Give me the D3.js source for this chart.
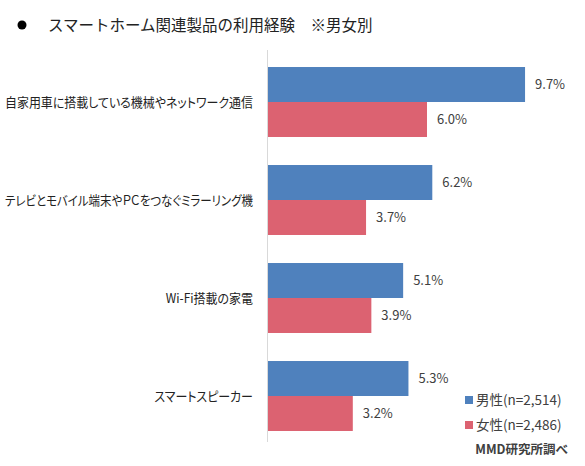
<!DOCTYPE html>
<html>
<head>
<meta charset="utf-8">
<script src="https://cdn.jsdelivr.net/npm/d3@7"></script>
<style>
  body { margin: 0; background: #fff; }
  text { font-family: "Noto Sans CJK JP", "Noto Sans", sans-serif; }
</style>
</head>
<body>
<svg id="chart" width="585" height="466"></svg>
<script>
// Chart data:
var categories = [
  "自家用車に搭載している機械やネットワーク通信",
  "テレビとモバイル端末やＰＣをつなぐミラーリング機",
  "Wi-Fi搭載の家電",
  "スマートスピーカー"
];
var seriesNames = ["男性(n=2,514)", "女性(n=2,486)"];
var maleValues = [9.7, 6.2, 5.1, 5.3];
var femaleValues = [6.0, 3.7, 3.9, 3.2];
var titleText = "スマートホーム関連製品の利用経験　※男女別";
var sourceText = "MMD研究所調べ";

var colors = ["#4f81bd", "#dc6271"];

var svg = d3.select("#chart");

// The rows, one per category, and a sub-band per series:
var y = d3.scaleBand()
  .domain(categories)
  .range([53, 445])
  .paddingInner(0.286)
  .paddingOuter(0.143);

var ySub = d3.scaleBand()
  .domain(seriesNames)
  .range([0, y.bandwidth()]);

var x = d3.scaleLinear()
  .domain([0, 10])
  .range([268, 533]);

// Title with its bullet:
svg.append("circle")
  .attr("cx", 22).attr("cy", 25).attr("r", 4.5)
  .attr("fill", "#000");
svg.append("text")
  .attr("x", 48).attr("y", 31)
  .attr("font-size", 15.5)
  .attr("fill", "#222")
  .text(titleText);

// The bars, grouped by series:
var values = [maleValues, femaleValues];
seriesNames.forEach(function(name, s) {
  var rows = categories.map(function(c, i) { return { cat: c, v: values[s][i] }; });

  svg.selectAll(".bar-" + s)
    .data(rows)
    .enter().append("rect")
    .attr("class", "bar-" + s)
    .attr("x", x(0))
    .attr("y", function(d) { return y(d.cat) + ySub(name); })
    .attr("width", function(d) { return x(d.v) - x(0); })
    .attr("height", ySub.bandwidth())
    .attr("fill", colors[s]);

  // Value labels just after the bar end:
  svg.selectAll(".val-" + s)
    .data(rows)
    .enter().append("text")
    .attr("class", "val-" + s)
    .attr("x", function(d) { return x(d.v) + 10; })
    .attr("y", function(d) { return y(d.cat) + ySub(name) + ySub.bandwidth() / 2; })
    .attr("dy", "0.35em")
    .attr("font-size", 13)
    .attr("fill", "#404040")
    .text(function(d) { return d.v.toFixed(1) + "%"; });
});

// Vertical category axis (line only, labels drawn by hand for the narrow font):
svg.append("line")
  .attr("x1", x(0) - 0.5).attr("x2", x(0) - 0.5)
  .attr("y1", 50).attr("y2", 442)
  .attr("stroke", "#d9d9d9")
  .attr("stroke-width", 1);

// The original font is narrower than ours, so labels get squeezed a bit
// (and never wider than the room left of the axis):
var labelRoom = x(0) - 20;
svg.selectAll(".cat-label")
  .data(categories)
  .enter().append("text")
  .attr("class", "cat-label")
  .attr("x", x(0) - 15)
  .attr("y", function(d) { return y(d) + y.bandwidth() / 2; })
  .attr("dy", "0.35em")
  .attr("text-anchor", "end")
  .attr("font-size", 13)
  .style("font-feature-settings", "'palt'")
  .attr("fill", "#222")
  .text(function(d) { return d; })
  .each(function() {
    var w = this.getComputedTextLength();
    var target = Math.min(w * 0.92, labelRoom);
    d3.select(this)
      .attr("textLength", target)
      .attr("lengthAdjust", "spacingAndGlyphs");
  });

// Legend at the bottom right:
var legend = svg.selectAll(".legend")
  .data(seriesNames)
  .enter().append("g")
  .attr("class", "legend")
  .attr("transform", function(d, i) { return "translate(465," + (400 + i * 25) + ")"; });

legend.append("rect")
  .attr("x", 0).attr("y", -4)
  .attr("width", 8).attr("height", 8)
  .attr("fill", function(d, i) { return colors[i]; });

legend.append("text")
  .attr("x", 11)
  .attr("dy", "0.35em")
  .attr("font-size", 13.5)
  .attr("fill", "#404040")
  .text(function(d) { return d; });

// Source note:
svg.append("text")
  .attr("x", 568).attr("y", 450)
  .attr("dy", "0.35em")
  .attr("text-anchor", "end")
  .attr("font-size", 12.5)
  .attr("font-weight", "bold")
  .attr("fill", "#404040")
  .text(sourceText);
</script>
</body>
</html>
